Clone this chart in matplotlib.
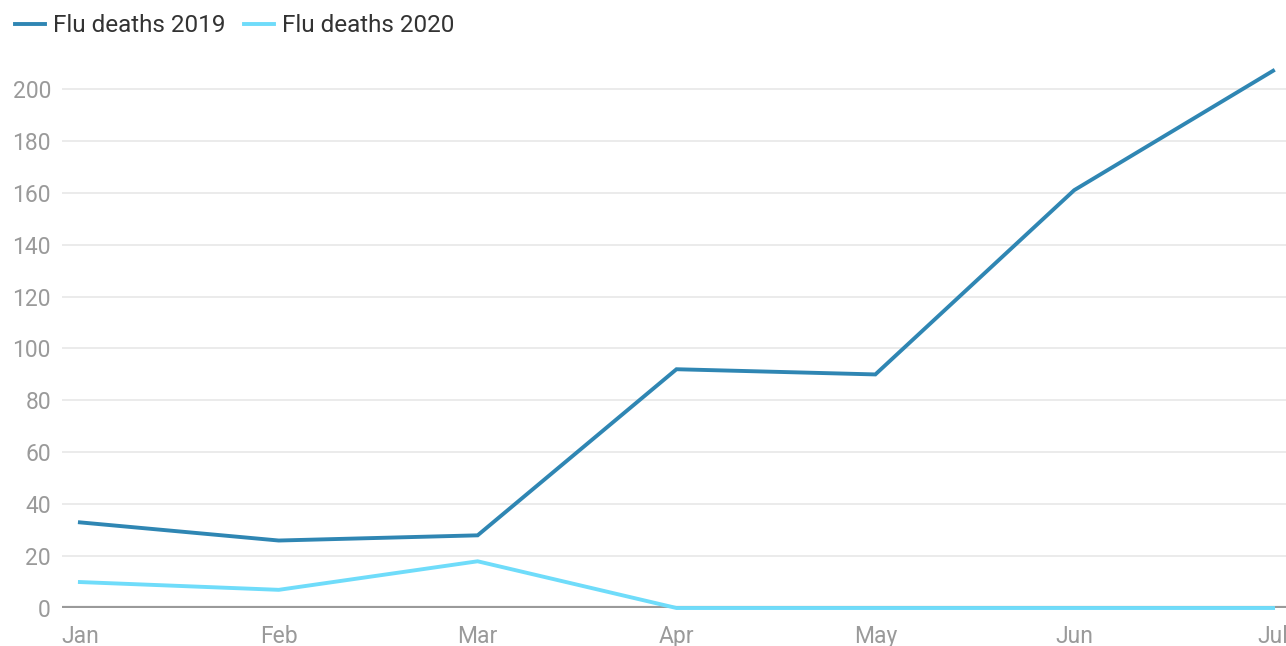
import matplotlib
matplotlib.use("Agg")
import matplotlib.pyplot as plt
from matplotlib.lines import Line2D

plt.rcParams['font.family'] = ['Roboto', 'DejaVu Sans']

months = ["Jan", "Feb", "Mar", "Apr", "May", "Jun", "Jul"]
deaths_2019 = [33, 26, 28, 92, 90, 161, 207]
deaths_2020 = [10, 7, 18, 0, 0, 0, 0]
series_names = ["Flu deaths 2019", "Flu deaths 2020"]
yticks = [0, 20, 40, 60, 80, 100, 120, 140, 160, 180, 200]

c2019 = "#2f86b3"
c2020 = "#6fdcfa"

W, H = 1286, 646
fig = plt.figure(figsize=(W / 100, H / 100), dpi=100)
ax = fig.add_axes([62 / W, (H - 608) / H, (1286 - 62) / W, (608 - 63) / H])

x = list(range(len(months)))
ax.plot(x, deaths_2019, color=c2019, lw=2.8, solid_joinstyle='miter', zorder=4, clip_on=False)
ax.plot(x, deaths_2020, color=c2020, lw=2.8, solid_joinstyle='miter', zorder=5, clip_on=False)

ax.set_xlim(-0.09, 6.065)
ax.set_ylim(0, 210)
ax.set_yticks(yticks)
ax.set_xticks(x)
ax.set_xticklabels(months)
ax.grid(axis='y', color='#e8e8e8', lw=1.2, zorder=0)
ax.axhline(0, color='#9a9a9a', lw=3, zorder=3)
for s in ax.spines.values():
    s.set_visible(False)
ax.tick_params(axis='both', length=0, labelcolor='#9a9a9a', labelsize=16.5)
ax.tick_params(axis='y', pad=8)
ax.tick_params(axis='x', pad=12)

handles = [Line2D([0], [0], color=c2019, lw=2.8), Line2D([0], [0], color=c2020, lw=2.8)]
fig.legend(handles, series_names, loc='upper left', bbox_to_anchor=(-0.005, 1.012), ncol=2,
           frameon=False, fontsize=17.5, labelcolor='#333333', handlelength=1.23,
           handletextpad=0.33, columnspacing=0.75)

fig.savefig("out.png", dpi=100)
